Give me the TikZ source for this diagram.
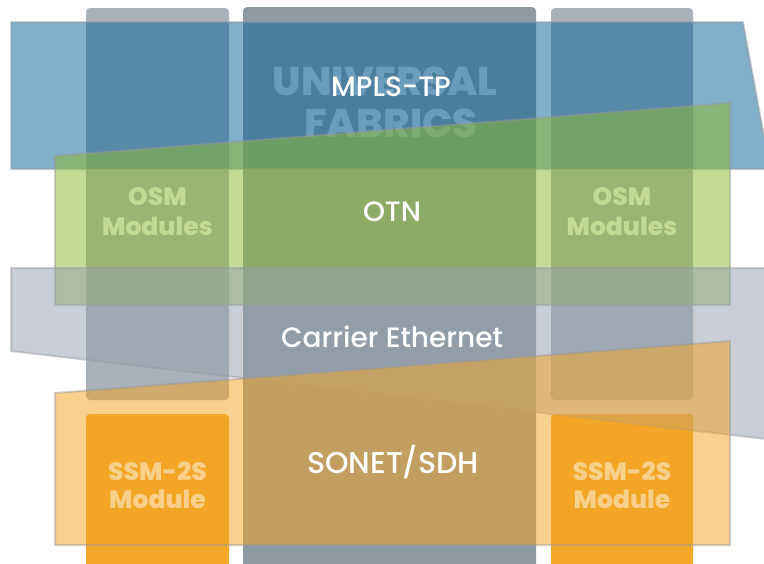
\documentclass[tikz,border=0pt]{standalone}
\usepackage{fontspec}
\setmainfont{Poppins}[UprightFont=*-Medium]
\newfontfamily\heavyfont{Poppins}[UprightFont=*-ExtraBold]
\definecolor{sidecol}{RGB}{169,177,187}
\definecolor{midcol}{RGB}{142,154,164}
\definecolor{ssmcol}{RGB}{244,168,42}
\definecolor{bluel}{RGB}{15,101,151}
\definecolor{greenl}{RGB}{138,188,47}
\definecolor{grayl}{RGB}{151,161,176}
\definecolor{orangel}{RGB}{243,165,36}
\definecolor{univcol}{RGB}{211,216,230}
\definecolor{edgecol}{RGB}{150,152,158}
\tikzset{
  column/.style={rounded corners=4pt},
  layer/.style={fill opacity=0.52, draw opacity=0.45, draw=edgecol, line width=2pt, line join=miter},
  biglabel/.style={text=white, font=\fontsize{28}{30}\selectfont, inner sep=0pt, anchor=base},
  modlabel/.style={text=white, font=\heavyfont\fontsize{25}{30}\selectfont, inner sep=0pt, anchor=base},
  univlabel/.style={text=univcol, font=\heavyfont\fontsize{40}{42}\selectfont, inner sep=0pt, anchor=base}
}
\begin{document}
\begin{tikzpicture}[x=1pt,y=-1pt]
\useasboundingbox (0,0) rectangle (764,563);
\clip (0,0) rectangle (764,563);
% columns
\fill[sidecol, column] (86,8) rectangle (229,400);
\fill[midcol, column] (243,7) rectangle (536,580);
\fill[sidecol, column] (551,8) rectangle (693,400);
\fill[ssmcol, column] (86,414) rectangle (229,580);
\fill[ssmcol, column] (551,414) rectangle (693,580);
% module texts (under the layers)
\node[univlabel] (univa) at (385,95) {UNIVERSAL};
\node[univlabel] (univb) at (391,137) {FABRICS};
\node[modlabel] (osmla) at (157.5,205) {OSM};
\node[modlabel] (osmlb) at (157.5,235) {Modules};
\node[modlabel] (osmra) at (622,205) {OSM};
\node[modlabel] (osmrb) at (622,235) {Modules};
\node[modlabel] (ssmla) at (157.5,480) {SSM-2S};
\node[modlabel] (ssmlb) at (157.5,508) {Module};
\node[modlabel] (ssmra) at (622,480) {SSM-2S};
\node[modlabel] (ssmrb) at (622,508) {Module};
% layers
\filldraw[layer, fill=bluel] (11,22) -- (743,22) -- (770,169) -- (11,169) -- cycle;
\filldraw[layer, fill=greenl] (55,156) -- (730,103) -- (730,305) -- (55,305) -- cycle;
\filldraw[layer, fill=grayl] (11,268) -- (800,268) -- (800,443) -- (11,351) -- cycle;
\filldraw[layer, fill=orangel] (55,393) -- (730,341) -- (730,545) -- (55,545) -- cycle;
% layer labels
\node[biglabel] (mpls) at (391,96) {MPLS-TP};
\node[biglabel] (otn) at (392,221) {OTN};
\node[biglabel] (eth) at (392,347) {Carrier Ethernet};
\node[biglabel, font=\fontsize{30}{32}\selectfont] (sonet) at (393,473) {SONET/SDH};
\end{tikzpicture}
\end{document}
